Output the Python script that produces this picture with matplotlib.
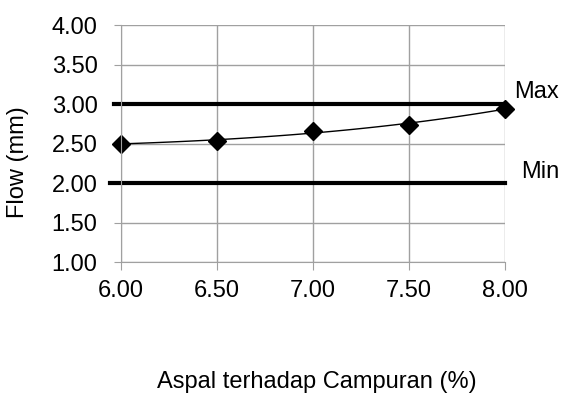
# flow vs asphalt content, with max / min limits

import matplotlib
matplotlib.use('Agg')
from matplotlib import pyplot as plt
import numpy as np

plt.rcParams['font.family'] = ['Liberation Sans', 'DejaVu Sans']

kadar_aspal = [6.0, 6.5, 7.0, 7.5, 8.0]
flow = [2.50, 2.53, 2.66, 2.74, 2.94]
flow_max = 3.0
flow_min = 2.0
x_ticks = [6.0, 6.5, 7.0, 7.5, 8.0]
y_ticks = [1.0, 1.5, 2.0, 2.5, 3.0, 3.5, 4.0]

fs = 17
fig = plt.figure(figsize=(5.61, 3.97), dpi=100)
ax = fig.add_axes([0.216, 0.340, 0.684, 0.597])

# smooth curve through the points (Excel style)
coef = np.polyfit(kadar_aspal, flow, 3)
xs = np.linspace(kadar_aspal[0], kadar_aspal[-1], 100)
ax.plot(xs, np.polyval(coef, xs), color='black', lw=1, clip_on=False)
ax.plot(kadar_aspal, flow, ls='none', marker='D', ms=9.5, color='black', clip_on=False)

ax.plot([5.96, 8.0], [flow_max, flow_max], color='black', lw=3, clip_on=False)
ax.plot([5.94, 8.0], [flow_min, flow_min], color='black', lw=3, clip_on=False)

ax.text(8.05, flow_max + 0.15, 'Max', fontsize=fs, va='center', ha='left')
ax.text(8.085, flow_min + 0.14, 'Min', fontsize=fs, va='center', ha='left')

ax.set_xlim(6, 8)
ax.set_ylim(1, 4)
ax.set_xticks(x_ticks)
ax.set_yticks(y_ticks)
ax.set_xticklabels(['%.2f' % v for v in x_ticks], fontsize=fs)
ax.set_yticklabels(['%.2f' % v for v in y_ticks], fontsize=fs)
ax.grid(True, color='#a0a0a0', lw=1)
ax.set_axisbelow(True)
ax.tick_params(axis='x', length=6, color='#a0a0a0', pad=7)
ax.tick_params(axis='y', length=5, color='#a0a0a0', pad=12)
for s in ['top', 'right']:
    ax.spines[s].set_visible(False)
for s in ['left', 'bottom']:
    ax.spines[s].set_color('#a0a0a0')

fig.text(18 / 561, 1 - 162 / 397, 'Flow (mm)', fontsize=fs, rotation=90,
         ha='center', va='center')
fig.text(317 / 561, 1 - 382 / 397, 'Aspal terhadap Campuran (%)', fontsize=fs,
         ha='center', va='center')

plt.savefig('out.png', dpi=100)
